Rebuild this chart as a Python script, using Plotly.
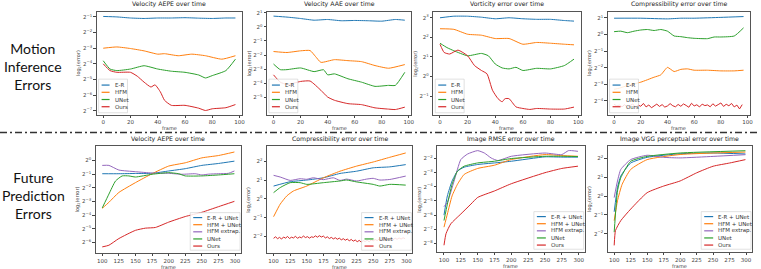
import numpy as np
import plotly.graph_objects as go

W, H = 761, 269

# ---------------- data (values are log2(error)) ----------------
# Top row: Motion inference errors, frames 0..97
p1_er_x = [0, 10, 20, 30, 40, 50, 60, 70, 80, 90, 97]
p1_er = [-0.97, -1.0, -1.07, -1.1, -1.07, -1.07, -1.05, -1.08, -1.1, -1.07, -1.07]
p1_hfm_x = [0, 10, 20, 30, 40, 45, 55, 65, 75, 87, 97]
p1_hfm = [-3.0, -2.92, -3.02, -3.17, -3.38, -3.35, -3.48, -3.38, -3.48, -3.7, -3.48]
p1_unet_x = [0, 5, 10, 20, 30, 40, 50, 60, 70, 75, 80, 90, 97]
p1_unet = [-3.8, -4.33, -4.43, -4.33, -4.12, -4.33, -4.47, -4.54, -4.71, -4.9, -4.75, -4.43, -3.7]
p1_ours_x = [0, 5, 10, 20, 25, 30, 35, 38, 42, 45, 50, 60, 70, 75, 80, 90, 97]
p1_ours = [-4.0, -4.43, -4.54, -4.54, -4.79, -5.17, -5.48, -5.34, -5.8, -6.33, -6.65, -6.65, -6.83, -6.98, -6.87, -6.8, -6.6]

p2_er_x = [0, 10, 20, 30, 40, 50, 60, 70, 80, 90, 97]
p2_er = [0.77, 0.70, 0.6, 0.48, 0.53, 0.44, 0.46, 0.44, 0.41, 0.53, 0.48]
p2_hfm_x = [0, 10, 20, 27, 31, 35, 45, 55, 65, 75, 85, 97]
p2_hfm = [-1.75, -1.82, -1.70, -1.68, -2.1, -2.52, -2.33, -2.4, -2.47, -2.75, -2.94, -2.68]
p2_unet_x = [0, 5, 10, 20, 30, 37, 40, 45, 55, 65, 75, 85, 90, 97]
p2_unet = [-2.64, -3.04, -3.04, -2.92, -3.18, -3.05, -3.41, -3.34, -3.69, -3.93, -4.23, -4.16, -4.16, -3.23]
p2_ours_x = [0, 5, 10, 20, 27, 35, 40, 45, 55, 65, 75, 85, 90, 97]
p2_ours = [-3.41, -3.93, -4.1, -3.88, -3.85, -4.51, -4.99, -5.22, -5.46, -5.53, -5.76, -5.85, -5.88, -5.71]

p3_er_x = [0, 10, 20, 30, 40, 50, 60, 70, 80, 90, 97]
p3_er = [3.0, 3.08, 3.08, 3.03, 2.95, 3.0, 2.95, 2.92, 2.92, 2.86, 2.83]
p3_hfm_x = [0, 10, 20, 30, 40, 50, 60, 70, 80, 90, 97]
p3_hfm = [2.44, 2.41, 2.16, 2.11, 1.94, 1.94, 1.65, 1.74, 1.7, 1.65, 1.62]
p3_unet_x = [0, 5, 10, 20, 30, 35, 40, 45, 50, 55, 60, 70, 80, 90, 97]
p3_unet = [1.7, 1.48, 1.32, 1.06, 1.18, 1.06, 0.64, 0.44, 0.39, 0.47, 0.31, 0.42, 0.39, 0.56, 0.89]
p3_ours_x = [0, 3, 7, 13, 20, 25, 30, 34, 38, 42, 45, 47, 50, 55, 60, 65, 70, 80, 90, 97]
p3_ours = [1.65, 1.23, 1.15, 1.35, 1.06, 0.56, 0.31, 0.14, -0.7, -1.13, -1.29, -1.13, -1.13, -1.55, -1.63, -1.68, -1.63, -1.66, -1.66, -1.56]

p4_er_x = [0, 20, 40, 50, 60, 80, 97]
p4_er = [0.98, 0.98, 0.94, 0.98, 0.98, 1.03, 1.08]
p4_hfm_x = [0, 4, 10, 20, 30, 35, 40, 45, 50, 55, 60, 70, 80, 90, 97]
p4_hfm = [-3.3, -3.23, -3.07, -2.87, -2.57, -2.43, -1.98, -2.23, -2.1, -2.07, -2.15, -2.15, -2.19, -2.19, -2.15]
p4_unet_x = [0, 5, 10, 15, 20, 25, 30, 35, 40, 45, 50, 55, 60, 70, 75, 80, 90, 97]
p4_unet = [0.17, 0.2, 0.11, 0.2, 0.27, 0.3, 0.24, 0.3, 0.2, -0.09, -0.13, -0.19, -0.23, -0.25, -0.15, -0.15, -0.09, 0.4]
p4_ours_x = list(range(0, 98, 2))
p4_ours = [-4.20, -4.30, -4.25, -4.35, -4.22, -4.40, -4.28, -4.18, -4.38, -4.25, -4.32, -4.15, -4.36,
           -4.24, -4.41, -4.27, -4.19, -4.33, -4.22, -4.37, -4.30, -4.16, -4.29, -4.35, -4.21, -4.32,
           -4.18, -4.27, -4.38, -4.14, -4.30, -4.23, -4.36, -4.19, -4.28, -4.24, -4.35, -4.17, -4.31,
           -4.22, -4.12, -4.33, -4.20, -4.29, -4.15, -4.36, -4.25, -4.48, -4.22]

# Bottom row: Future prediction errors, frames 100..299
p5_er_x = [100, 125, 150, 175, 200, 225, 250, 275, 299]
p5_er = [-0.97, -0.97, -0.95, -0.94, -0.77, -0.6, -0.36, -0.22, -0.05]
p5_hfm_x = [100, 110, 125, 150, 175, 200, 225, 250, 275, 299]
p5_hfm = [-3.5, -3.06, -2.34, -1.62, -0.97, -0.41, -0.17, 0.19, 0.36, 0.62]
p5_ext_x = [100, 110, 125, 150, 175, 200, 220, 240, 250, 260, 275, 290, 299]
p5_ext = [-0.36, -0.36, -0.7, -0.82, -0.92, -0.94, -1.01, -0.97, -1.06, -1.0, -0.97, -0.94, -0.77]
p5_unet_x = [100, 110, 120, 130, 140, 150, 175, 200, 215, 225, 250, 275, 299]
p5_unet = [-3.47, -2.46, -1.5, -1.13, -1.13, -1.21, -1.01, -0.89, -0.97, -1.13, -1.13, -1.06, -0.97]
p5_ours_x = [100, 110, 125, 150, 165, 180, 200, 225, 250, 275, 299]
p5_ours = [-6.32, -6.2, -5.71, -5.11, -4.95, -4.9, -4.51, -4.1, -3.79, -3.38, -2.99]

p6_er_x = [100, 125, 150, 175, 200, 225, 250, 275, 299]
p6_er = [0.68, 0.91, 1.0, 1.12, 1.35, 1.47, 1.65, 1.7, 1.82]
p6_hfm_x = [100, 110, 120, 130, 150, 175, 200, 225, 250, 275, 299]
p6_hfm = [-0.95, -0.28, 0.16, 0.42, 0.68, 1.12, 1.47, 1.74, 1.96, 2.21, 2.44]
p6_ext_x = [100, 110, 125, 140, 150, 160, 175, 190, 200, 210, 225, 240, 250, 260, 275, 299]
p6_ext = [1.25, 1.16, 0.98, 1.07, 1.04, 1.12, 1.02, 1.12, 0.98, 1.05, 0.95, 1.05, 1.09, 1.0, 1.03, 1.21]
p6_unet_x = [100, 110, 125, 140, 150, 175, 200, 210, 225, 250, 260, 275, 299]
p6_unet = [0.33, 0.6, 0.86, 0.86, 0.77, 0.86, 0.95, 1.0, 0.9, 0.77, 0.68, 0.77, 0.73]
p6_ours_x = list(range(100, 299, 3))
p6_ours = [-2.10, -2.02, -2.12, -2.05, -2.14, -2.03, -2.09, -2.00, -2.11, -2.04, -2.08, -1.99, -2.10,
           -2.03, -2.07, -1.98, -2.06, -2.01, -2.09, -2.02, -2.05, -1.97, -2.04, -1.96, -2.03, -1.98,
           -2.08, -2.02, -2.11, -2.05, -2.13, -2.07, -2.15, -2.09,
           -2.18, -2.12, -2.20, -2.14, -2.23, -2.16, -2.25, -2.19, -2.28, -2.21, -2.30, -2.22, -2.27,
           -2.20, -2.29, -2.18, -2.24,
           -2.16, -2.22, -2.13, -2.20, -2.12, -2.19, -2.10, -2.17, -2.11, -2.18, -2.09, -2.15, -2.08,
           -2.14, -2.07, -2.12]

p7_x = [100, 105, 112, 120, 130, 150, 175, 200, 250, 275, 299]
p7_er = [-6.0, -4.64, -3.59, -2.89, -2.61, -2.42, -2.31, -2.19, -1.88, -1.9, -1.9]
p7_hfm = [-6.85, -5.92, -4.64, -3.82, -3.12, -2.7, -2.47, -2.07, -1.72, -1.79, -1.84]
p7_unet = [-6.38, -5.22, -3.82, -2.89, -2.54, -2.31, -2.19, -2.0, -1.84, -1.84, -1.86]
p7_ext_x = [100, 105, 115, 125, 135, 150, 160, 170, 180, 200, 250, 275, 285, 299]
p7_ext = [-5.4, -5.1, -3.59, -2.07, -1.68, -1.44, -1.61, -1.96, -2.14, -1.84, -1.61, -1.72, -1.44, -1.49]
p7_ours_x = [100, 103, 110, 125, 140, 150, 175, 200, 250, 275, 299]
p7_ours = [-8.13, -7.31, -6.62, -5.92, -5.22, -4.75, -4.29, -3.78, -3.0, -2.7, -2.54]

p8_er_x = [100, 105, 110, 125, 150, 200, 250, 299]
p8_er = [-0.83, 0.45, 1.06, 1.75, 2.05, 2.24, 2.28, 2.23]
p8_hfm_x = [100, 105, 112, 125, 150, 200, 299]
p8_hfm = [-1.3, -0.25, 0.62, 1.41, 1.93, 2.2, 2.33]
p8_ext_x = [100, 105, 110, 125, 150, 175, 200, 250, 299]
p8_ext = [-0.08, 0.8, 1.41, 1.93, 2.16, 2.05, 2.02, 2.1, 2.19]
p8_unet_x = [100, 105, 110, 125, 150, 200, 299]
p8_unet = [-1.91, 0.27, 0.97, 1.84, 2.1, 2.28, 2.4]
p8_ours_x = [100, 102, 110, 125, 150, 175, 200, 225, 250, 275, 299]
p8_ours = [-2.61, -1.82, -1.3, -0.69, 0.18, 0.53, 0.8, 1.23, 1.58, 1.75, 1.93]

titles = ["Velocity AEPE over time", "Velocity AAE over time", "Vorticity error over time",
          "Compressibility error over time", "Velocity AEPE over time", "Compressibility error over time",
          "Image RMSE error over time", "Image VGG perceptual error over time"]
top_labels = ["E-R", "HFM", "UNet", "Ours"]
bot_labels = ["E-R + UNet", "HFM + UNet", "HFM extrap.", "UNet", "Ours"]
top_ticks_x = [0, 20, 40, 60, 80, 100]
bot_ticks_x = [100, 125, 150, 175, 200, 225, 250, 275, 300]
ytick_exps = [[-1, -2, -3, -4, -5, -6, -7], [1, 0, -1, -2, -3, -4, -5], [3, 2, 1, 0, -1],
              [1, 0, -1, -2, -3, -4], [0, -1, -2, -3, -4, -5, -6], [2, 1, 0, -1, -2],
              [-2, -3, -4, -5, -6, -7, -8], [2, 1, 0, -1, -2]]
yranges = [(-7.25, -0.68), (-6.25, 1.07), (-1.95, 3.3), (-4.83, 1.36),
           (-6.78, 1.03), (-2.89, 2.79), (-8.62, -1.14), (-2.97, 2.63)]

BLUE, ORANGE, GREEN, RED, PURPLE = "#1f77b4", "#ff7f0e", "#2ca02c", "#d62728", "#9467bd"
top_colors = [BLUE, ORANGE, GREEN, RED]
bot_colors = [BLUE, ORANGE, PURPLE, GREEN, RED]

series = {
    1: [(p1_er_x, p1_er, BLUE, 1), (p1_hfm_x, p1_hfm, ORANGE, 1), (p1_unet_x, p1_unet, GREEN, 1), (p1_ours_x, p1_ours, RED, 1)],
    2: [(p2_er_x, p2_er, BLUE, 1), (p2_hfm_x, p2_hfm, ORANGE, 1), (p2_unet_x, p2_unet, GREEN, 1), (p2_ours_x, p2_ours, RED, 1)],
    3: [(p3_er_x, p3_er, BLUE, 1), (p3_hfm_x, p3_hfm, ORANGE, 1), (p3_unet_x, p3_unet, GREEN, 1), (p3_ours_x, p3_ours, RED, 1)],
    4: [(p4_er_x, p4_er, BLUE, 1), (p4_hfm_x, p4_hfm, ORANGE, 1), (p4_unet_x, p4_unet, GREEN, 1), (p4_ours_x, p4_ours, RED, 0)],
    5: [(p5_er_x, p5_er, BLUE, 1), (p5_hfm_x, p5_hfm, ORANGE, 1), (p5_ext_x, p5_ext, PURPLE, 1), (p5_unet_x, p5_unet, GREEN, 1), (p5_ours_x, p5_ours, RED, 1)],
    6: [(p6_er_x, p6_er, BLUE, 1), (p6_hfm_x, p6_hfm, ORANGE, 1), (p6_ext_x, p6_ext, PURPLE, 1), (p6_unet_x, p6_unet, GREEN, 1), (p6_ours_x, p6_ours, RED, 0)],
    7: [(p7_x, p7_er, BLUE, 1), (p7_x, p7_hfm, ORANGE, 1), (p7_ext_x, p7_ext, PURPLE, 1), (p7_x, p7_unet, GREEN, 1), (p7_ours_x, p7_ours, RED, 1)],
    8: [(p8_er_x, p8_er, BLUE, 1), (p8_hfm_x, p8_hfm, ORANGE, 1), (p8_ext_x, p8_ext, PURPLE, 1), (p8_unet_x, p8_unet, GREEN, 1), (p8_ours_x, p8_ours, RED, 1)],
}

# panel plot-area rectangles in pixels (left, top, right, bottom)
panels = [(97, 9, 243, 113), (268, 9, 413, 113), (435, 9, 583, 113), (610, 9, 753, 113),
          (96, 145, 242, 253), (268, 145, 414, 253), (439, 145, 587, 252), (610, 145, 755, 252)]

L2 = np.log10(2.0)
FONT = "DejaVu Sans"
AX = "#444444"

fig = go.Figure()
layout = dict(width=W, height=H, margin=dict(l=0, r=0, t=0, b=0),
              paper_bgcolor="white", plot_bgcolor="white", showlegend=False)
shapes, annotations = [], []

for i in range(1, 9):
    l, t, r, b = panels[i - 1]
    for xs, ys, col, smooth in series[i]:
        fig.add_trace(go.Scatter(
            x=xs, y=2.0 ** np.array(ys), xaxis=f"x{i}", yaxis=f"y{i}", mode="lines",
            line=dict(color=col, width=1, shape="spline" if smooth else "linear", smoothing=0.5),
            hoverinfo="skip"))
    top = i <= 4
    exps = ytick_exps[i - 1]
    lo, hi = yranges[i - 1]
    layout[f"xaxis{i}"] = dict(
        domain=[l / W, r / W], anchor=f"y{i}",
        range=[-4.85, 101.85] if top else [90, 309],
        tickvals=top_ticks_x if top else bot_ticks_x,
        ticks="outside", ticklen=2, tickwidth=0.6, tickcolor=AX,
        tickfont=dict(size=5.5, family=FONT, color=AX),
        showline=True, mirror=True, linecolor="#555555", linewidth=0.8,
        showgrid=False, zeroline=False)
    layout[f"yaxis{i}"] = dict(
        domain=[1 - b / H, 1 - t / H], anchor=f"x{i}", type="log",
        range=[lo * L2, hi * L2],
        tickvals=[2.0 ** k for k in exps],
        ticktext=[f"2<sup>{str(k).replace('-', '−')}</sup>" for k in exps],
        ticks="outside", ticklen=2.5, tickwidth=0.6, tickcolor=AX,
        tickfont=dict(size=5.5, family=FONT, color=AX),
        showline=True, mirror=True, linecolor="#555555", linewidth=0.8,
        showgrid=False, zeroline=False)
    # title
    annotations.append(dict(text=titles[i - 1], xref="paper", yref="paper",
                            x=(l + r) / 2 / W, y=1 - (t - 1.5) / H, xanchor="center", yanchor="bottom",
                            showarrow=False, font=dict(size=6.2, family=FONT, color="#222222")))
    # x label
    annotations.append(dict(text="frame", xref="paper", yref="paper",
                            x=(l + r) / 2 / W, y=1 - (b + 13.5) / H,
                            xanchor="center", yanchor="middle", showarrow=False,
                            font=dict(size=5, family=FONT, color=AX)))
    # y label
    ylab = "log<sub>2</sub>(error)"
    annotations.append(dict(text=ylab, xref="paper", yref="paper", textangle=-90,
                            x=(l - 18) / W, y=1 - (t + b) / 2 / H,
                            xanchor="center", yanchor="middle", showarrow=False,
                            font=dict(size=5, family=FONT, color=AX)))
    # legend (drawn box)
    labels = top_labels if top else bot_labels
    colors = top_colors if top else bot_colors
    if top:
        bw, bh = 29, 34
        bl, bt = l + 2, b - 2 - bh
        line_len, tgap, row0, dy = 8, 3, 6, 7.3
    else:
        bw, bh = 50, 38
        bl, bt = r - 1 - bw, b - 3 - bh
        line_len, tgap, row0, dy = 9, 3, 5, 7.2
    shapes.append(dict(type="rect", xref="paper", yref="paper",
                       x0=bl / W, x1=(bl + bw) / W, y0=1 - (bt + bh) / H, y1=1 - bt / H,
                       fillcolor="rgba(255,255,255,0.85)", line=dict(color="#cccccc", width=0.6)))
    for j, (lab, col) in enumerate(zip(labels, colors)):
        yy = bt + row0 + j * dy
        shapes.append(dict(type="line", xref="paper", yref="paper",
                           x0=(bl + 3) / W, x1=(bl + 3 + line_len) / W, y0=1 - yy / H, y1=1 - yy / H,
                           line=dict(color=col, width=1.2)))
        annotations.append(dict(text=lab, xref="paper", yref="paper",
                                x=(bl + 3 + line_len + tgap) / W, y=1 - yy / H,
                                xanchor="left", yanchor="middle", showarrow=False,
                                font=dict(size=5.5, family=FONT, color="#333333")))

# row labels
annotations.append(dict(text="Motion<br>Inference<br>Errors", xref="paper", yref="paper",
                        x=33 / W, y=1 - 64 / H, xanchor="center", yanchor="middle", showarrow=False,
                        font=dict(size=14, family="Lato", color="#111111")))
annotations.append(dict(text="Future<br>Prediction<br>Errors", xref="paper", yref="paper",
                        x=34 / W, y=1 - 195 / H, xanchor="center", yanchor="middle", showarrow=False,
                        font=dict(size=14, family="Lato", color="#111111")))
# dash-dot separator
shapes.append(dict(type="line", xref="paper", yref="paper", x0=0, x1=1,
                   y0=1 - 131 / H, y1=1 - 131 / H,
                   line=dict(color="#333333", width=1.5, dash="7px,3px,2px,3px")))

layout["shapes"] = shapes
layout["annotations"] = annotations
fig.update_layout(**layout)
fig.write_html("out.html", config={"displayModeBar": False},
               post_script="document.body.style.margin='0px';document.body.style.overflow='hidden';")
